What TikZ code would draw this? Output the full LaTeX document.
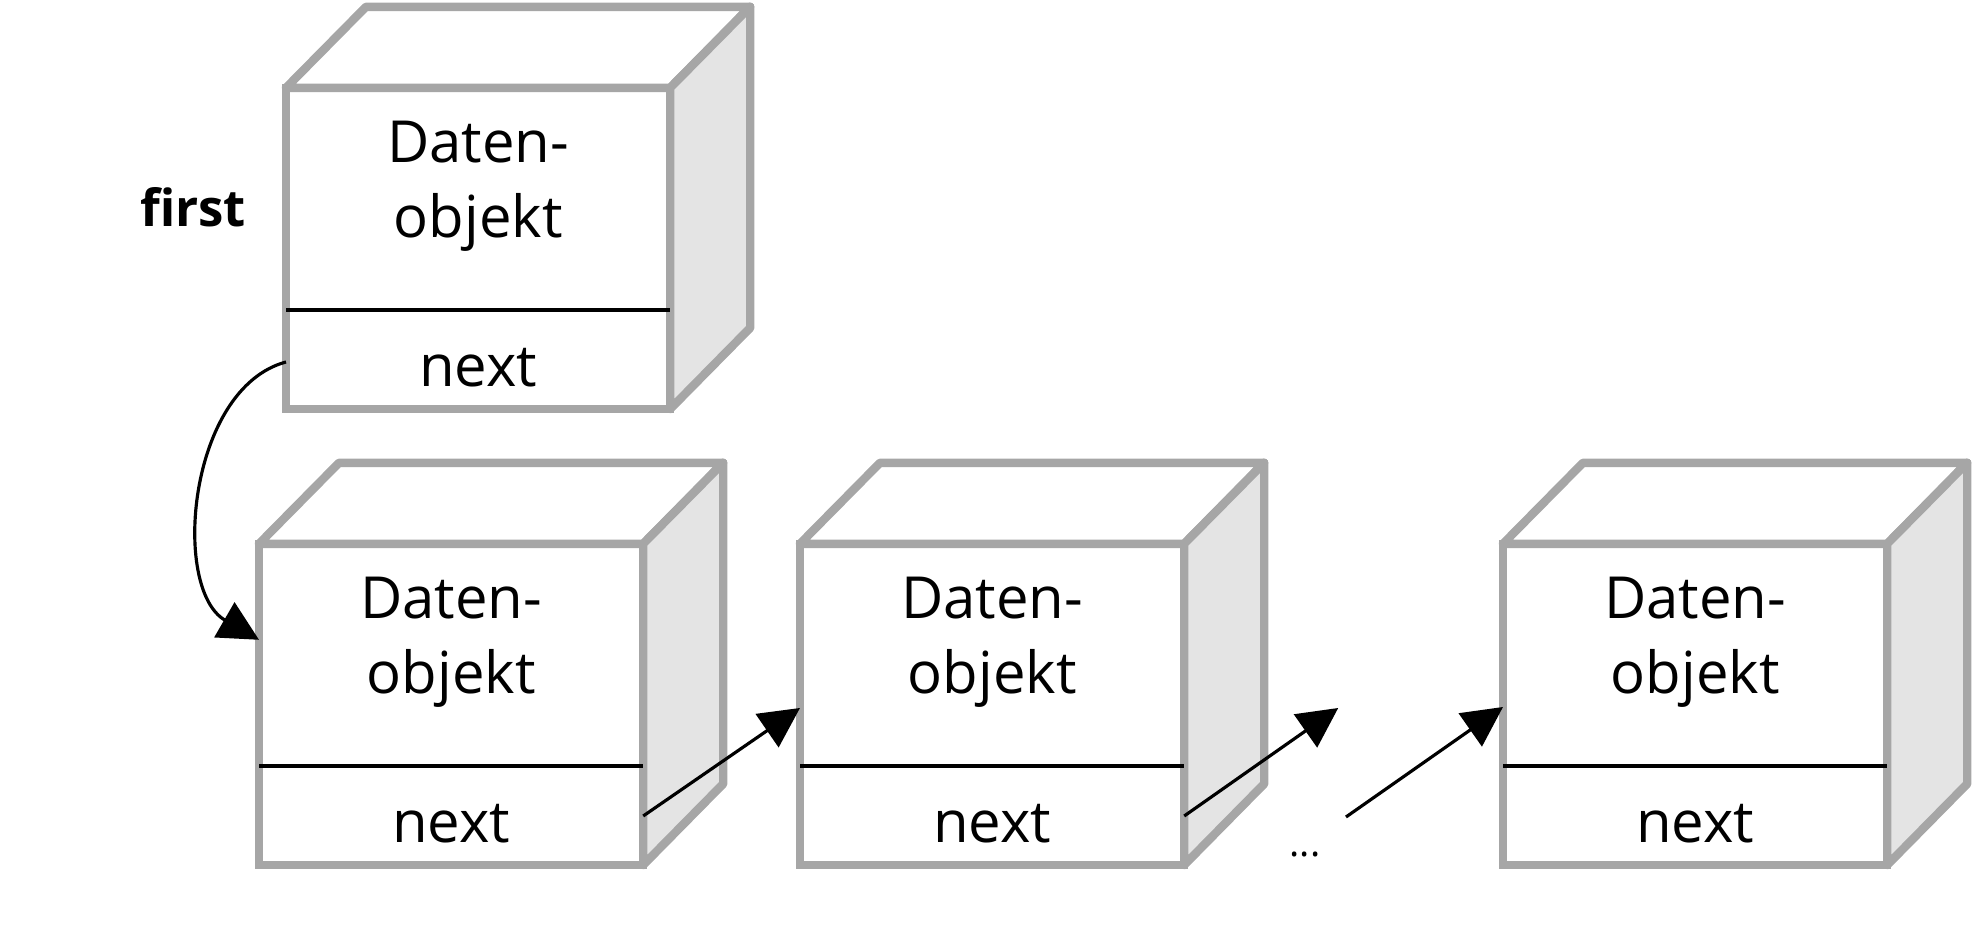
\documentclass[tikz,border=0pt]{standalone}
\usepackage{fontspec}
\setmainfont{Open Sans}
\usetikzlibrary{positioning,calc,arrows.meta}

\definecolor{boxgray}{RGB}{166,166,166}
\definecolor{sidegray}{RGB}{228,228,228}

\tikzset{
  front/.style={rectangle, draw=boxgray, line width=2.4pt, fill=white, minimum width=3.84cm, minimum height=3.21cm, inner sep=0pt, outer sep=0pt, anchor=south west},
  face/.style={draw=boxgray, line width=2.4pt, line join=round},
  txt/.style={font=\fontsize{16.5}{19}\selectfont, inner sep=0pt, anchor=base},
  ptr/.style={-{Triangle[length=0.40cm, width=0.40cm]}, line width=0.9pt},
}

\begin{document}
\begin{tikzpicture}[x=0.01cm, y=0.01cm]
    \useasboundingbox (0,0) rectangle (1975,940);

    \node [front] (b1) at (286,531) {};
    \node [front] (b2) at (259,75) {};
    \node [front] (b3) at (800,75) {};
    \node [front] (b4) at (1503,75) {};

    \foreach \b in {b1,b2,b3,b4} {
        \draw [face, fill=white] (\b.north west) -- ++(80,81) -- ++(384,0) -- (\b.north east) -- cycle;
        \draw [face, fill=sidegray] (\b.north east) -- ++(80,81) -- ++(0,-321) -- (\b.south east) -- cycle;
        \draw [line width=0.95pt] ($(\b.south west)+(0,99)$) -- ($(\b.south east)+(0,99)$);
        \node [txt] (\b-d1) at ($(\b.north)+(0,-75)$) {Daten-};
        \node [txt] (\b-d2) at ($(\b.north)+(0,-150)$) {objekt};
        \node [txt] (\b-n) at ($(\b.south)+(0,22)$) {next};
    }

    \node [font=\bfseries\fontsize{14.5}{17}\selectfont, inner sep=0pt, anchor=base] (first) at (193,713) {first};
    \node [font=\fontsize{11}{13}\selectfont, inner sep=0pt, anchor=base] (dots) at (1305,83) {...};

    \coordinate (gapin) at ($(b3.south east)+(154,157)$);
    \coordinate (gapout) at ($(b4.south west)+(-157,48)$);

    \draw [ptr] ($(b1.south west)+(0,47)$) to[out=195, in=150, looseness=0.93] ($(b2.north west)+(0,-96)$);
    \draw [ptr] ($(b2.south east)+(0,49)$) -- ($(b3.south west)+(0,157)$);
    \draw [ptr] ($(b3.south east)+(0,49)$) -- (gapin);
    \draw [ptr] (gapout) -- ($(b4.south west)+(0,158)$);
\end{tikzpicture}
\end{document}
